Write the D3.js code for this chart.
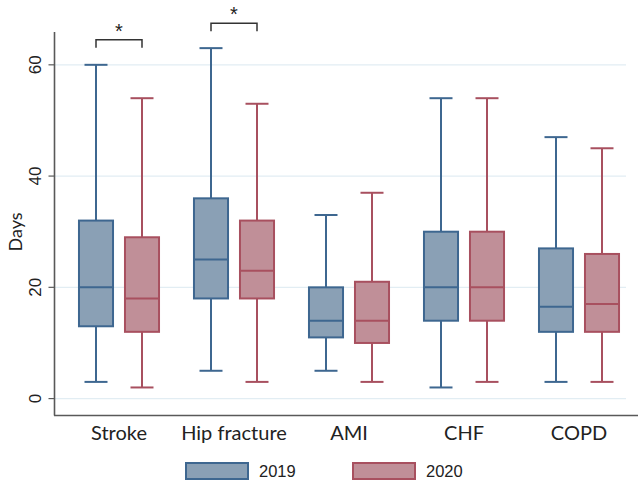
<!DOCTYPE html>
<html><head><meta charset="utf-8">
<script src="https://cdn.jsdelivr.net/npm/d3@7"></script>
<style>body{margin:0;background:#fff}svg{display:block}</style>
</head><body>
<svg id="chart" width="638" height="483"></svg>
<script>
const categories = ["Stroke", "Hip fracture", "AMI", "CHF", "COPD"];
const years = ["2019", "2020"];
// [lower whisker, Q1, median, Q3, upper whisker]
const stats2019 = [[3,13,20,32,60],[5,18,25,36,63],[5,11,14,20,33],[2,14,20,30,54],[3,12,16.5,27,47]];
const stats2020 = [[2,12,18,29,54],[3,18,23,32,53],[3,10,14,21,37],[3,14,20,30,54],[3,12,17,26,45]];
const significant = ["Stroke", "Hip fracture"];
const yTicks = [0, 20, 40, 60];

const fills = {"2019": "#8aa0b5", "2020": "#c08f98"};
const strokes = {"2019": "#3e6790", "2020": "#a8505f"};

const svg = d3.select("#chart");
const y = d3.scaleLinear().domain([-2.95, 65.9]).range([415, 32]);
const x = d3.scaleBand().domain(categories).range([61.5, 636.5]).paddingInner(0).paddingOuter(0);
const xs = d3.scaleBand().domain(years).range([0, 115]).paddingInner(0.26).paddingOuter(0.38);

// gridlines
svg.append("g").selectAll("line").data(yTicks).join("line")
  .attr("x1", 54).attr("x2", 626)
  .attr("y1", d => y(d)).attr("y2", d => y(d))
  .attr("stroke", "#e2edf3").attr("stroke-width", 1.2);

// axes
const yAxis = d3.axisLeft(y).tickValues(yTicks).tickSize(6).tickPadding(4).tickFormat(d3.format("d"));
const gy = svg.append("g").attr("transform", "translate(54.5,0)").call(yAxis);
gy.select(".domain").attr("stroke", "#595959").attr("stroke-width", 1.6).attr("d", `M0,32V415.5`);
gy.selectAll(".tick").attr("transform", null);
gy.selectAll(".tick line").attr("stroke", "#595959").attr("stroke-width", 1.2)
  .attr("y1", d => y(d)).attr("y2", d => y(d));
gy.selectAll(".tick text")
  .attr("font-family", "Liberation Sans, Arial, sans-serif").attr("font-size", 17).attr("fill", "#222")
  .attr("x", -19.5).attr("y", d => y(d)).attr("dy", "0.35em").attr("text-anchor", "middle")
  .attr("transform", d => `rotate(-90, -19.5, ${y(d)})`);

const xAxis = d3.axisBottom(x).tickSize(0).tickPadding(10);
const gx = svg.append("g").attr("transform", "translate(0,415.5)").call(xAxis);
gx.select(".domain").attr("stroke", "#595959").attr("stroke-width", 1.6).attr("d", "M54,0H638");
gx.selectAll(".tick text").attr("font-family", "Lato, 'Open Sans', sans-serif").attr("font-size", 20).attr("fill", "#222");

// y title
svg.append("text").attr("transform", "translate(22,232) rotate(-90)")
  .attr("text-anchor", "middle").attr("font-family", "Lato, 'Open Sans', sans-serif").attr("font-size", 18).attr("fill", "#222")
  .text("Days");

// boxes
const series = [{year: "2019", stats: stats2019}, {year: "2020", stats: stats2020}];
const capW = 23;
series.forEach(s => {
  const g = svg.append("g");
  s.stats.forEach((st, i) => {
    const cat = categories[i];
    const x0 = x(cat) + xs(s.year);
    const bw = xs.bandwidth();
    const cx = x0 + bw / 2;
    const [lo, q1, med, q3, hi] = st;
    const col = strokes[s.year];
    g.append("line").attr("x1", cx).attr("x2", cx).attr("y1", y(hi)).attr("y2", y(q3)).attr("stroke", col).attr("stroke-width", 2);
    g.append("line").attr("x1", cx).attr("x2", cx).attr("y1", y(q1)).attr("y2", y(lo)).attr("stroke", col).attr("stroke-width", 2);
    g.append("line").attr("x1", cx - capW/2).attr("x2", cx + capW/2).attr("y1", y(hi)).attr("y2", y(hi)).attr("stroke", col).attr("stroke-width", 2);
    g.append("line").attr("x1", cx - capW/2).attr("x2", cx + capW/2).attr("y1", y(lo)).attr("y2", y(lo)).attr("stroke", col).attr("stroke-width", 2);
    g.append("rect").attr("x", x0).attr("y", y(q3)).attr("width", bw).attr("height", y(q1) - y(q3))
      .attr("fill", fills[s.year]).attr("stroke", col).attr("stroke-width", 2);
    g.append("line").attr("x1", x0).attr("x2", x0 + bw).attr("y1", y(med)).attr("y2", y(med)).attr("stroke", col).attr("stroke-width", 2);
  });
});

// significance brackets
significant.forEach(cat => {
  const i = categories.indexOf(cat);
  const top = Math.max(stats2019[i][4], stats2020[i][4]);
  const xa = x(cat) + xs("2019") + xs.bandwidth() / 2;
  const xb = x(cat) + xs("2020") + xs.bandwidth() / 2;
  const yb = y(top) - 17;
  svg.append("path").attr("d", `M${xa},${yb}V${yb - 8}H${xb}V${yb}`)
    .attr("fill", "none").attr("stroke", "#333").attr("stroke-width", 1.5);
  svg.append("text").attr("x", (xa + xb) / 2).attr("y", yb - 8 - 2)
    .attr("text-anchor", "middle").attr("font-family", "Liberation Sans, Arial, sans-serif").attr("font-size", 20).attr("fill", "#222")
    .text("*");
});

// legend
const legendX = [186, 353];
years.forEach((yr, i) => {
  svg.append("rect").attr("x", legendX[i]).attr("y", 463).attr("width", 62).attr("height", 16)
    .attr("fill", fills[yr]).attr("stroke", strokes[yr]).attr("stroke-width", 2);
  svg.append("text").attr("x", legendX[i] + 73).attr("y", 471).attr("dy", "0.35em")
    .attr("font-family", "Liberation Sans, Arial, sans-serif").attr("font-size", 16.5).attr("fill", "#222")
    .text(yr);
});
</script>
</body></html>
